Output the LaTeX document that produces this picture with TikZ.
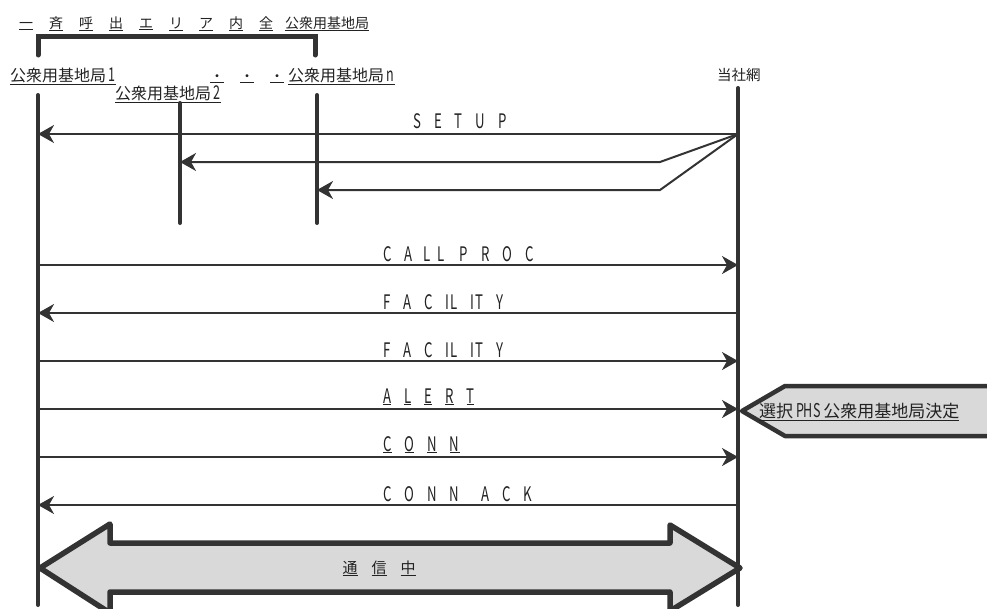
\documentclass[tikz,border=0pt]{standalone}
\usepackage{fontspec}
\setmainfont{Noto Sans CJK JP}
\newfontfamily\latfont[FakeStretch=0.66]{Noto Sans CJK JP}
\usetikzlibrary{arrows.meta}

\definecolor{ink}{HTML}{333333}
\definecolor{txt}{HTML}{222222}
\definecolor{shade}{HTML}{D9D9D9}

\newcommand{\gap}{\hspace{13pt}}
\newcommand{\dig}[1]{{\latfont\fontsize{19}{20}\selectfont #1}}

\tikzset{
  lifeline/.style={ink, line width=4pt, line cap=round},
  msg/.style={ink, line width=2pt, -{Stealth[length=16pt,width=18pt,inset=5pt]}},
  lab/.style={txt, anchor=base west, inner sep=0pt, font=\latfont\fontsize{20}{24}\selectfont},
  jlab/.style={txt, anchor=base west, inner sep=0pt, font=\fontsize{16}{18}\selectfont},
  hdr/.style={txt, anchor=base, inner sep=0pt, font=\fontsize{14}{18}\selectfont},
}

\begin{document}
\begin{tikzpicture}[x=1pt, y=-1pt]
    \clip (0,0) rectangle (987,608);

    % Заголовок
    \foreach \c [count=\i from 0] in {一,斉,呼,出,エ,リ,ア,内,全}
        \node[hdr] (h\i) at (26+30*\i, 28) {\underline{\c}};
    \node[hdr, anchor=base west] (hall) at (285,28) {\underline{公衆用基地局}};
    % Скобка
    \draw[ink, line width=5pt, line cap=round] (38,55) -- (38,36) -- (315,36) -- (315,55);

    % Подписи станций
    \node[jlab] (lb1) at (10,81) {\underline{公衆用基地局\,\dig{1}}};
    \node[jlab] (lb2) at (115,99) {\underline{公衆用基地局\,\dig{2}}};
    \node[hdr] (d1) at (217,81) {\underline{・}};
    \node[hdr] (d2) at (247,81) {\underline{・}};
    \node[hdr] (d3) at (277,81) {\underline{・}};
    \node[jlab] (lbn) at (288,81) {\underline{公衆用基地局\,\dig{n}}};
    \node[jlab, font=\fontsize{14.5}{18}\selectfont] (lnet) at (717,80) {当社網};

    % Линии жизни
    \coordinate (b1) at (38,95);   \coordinate (b1b) at (38,605);
    \coordinate (b2) at (180,103); \coordinate (b2b) at (180,223);
    \coordinate (bn) at (317,95);  \coordinate (bnb) at (317,223);
    \coordinate (net) at (738,88); \coordinate (netb) at (738,605);
    \draw[lifeline] (b1) -- (b1b);
    \draw[lifeline] (b2) -- (b2b);
    \draw[lifeline] (bn) -- (bnb);
    \draw[lifeline] (net) -- (netb);

    % Сообщения
    \coordinate (setup) at (738,134);
    \coordinate (bend2) at (660,162);
    \coordinate (bend3) at (660,190);
    \coordinate (callproc) at (738,265);
    \coordinate (fac1) at (738,313);
    \coordinate (fac2) at (738,361);
    \coordinate (alert) at (738,409);
    \coordinate (conn) at (738,457);
    \coordinate (connack) at (738,505);

    \draw[msg] (setup) -- (b1 |- setup);
    \draw[msg] (setup) -- (bend2) -- (b2 |- bend2);
    \draw[msg] (setup) -- (bend3) -- (bn |- bend3);
    \draw[msg] (b1 |- callproc) -- (callproc);
    \draw[msg] (fac1) -- (b1 |- fac1);
    \draw[msg] (b1 |- fac2) -- (fac2);
    \draw[msg] (b1 |- alert) -- (alert);
    \draw[msg] (b1 |- conn) -- (conn);
    \draw[msg] (connack) -- (b1 |- connack);

    \node[lab] (tsetup) at (413,128) {S\gap E\gap T\gap U\gap P};
    \node[lab] (tcall) at (383,261) {C\gap A\hspace{11pt}L\hspace{7pt}L\hspace{15pt}P\gap R\gap O\gap C};
    \node[lab] (tfac1) at (383,309) {F\gap A\gap C\gap I\hspace{1pt}L\gap I\hspace{1pt}T\gap Y};
    \node[lab] (tfac2) at (383,357) {F\gap A\gap C\gap I\hspace{1pt}L\gap I\hspace{1pt}T\gap Y};
    \node[lab] (talert) at (383,403) {\underline{A}\gap\underline{L}\gap\underline{E}\gap\underline{R}\gap\underline{T}};
    \node[lab] (tconn) at (383,451) {\underline{C}\gap\underline{O}\gap\underline{N}\gap\underline{N}};
    \node[lab] (tack) at (383,501) {C\gap O\gap N\gap N\hspace{22pt}A\gap C\gap K};

    % Выноска
    \draw[ink, fill=shade, line width=4.5pt, line join=round]
        (995,386) -- (785,386) -- (742,411) -- (785,436) -- (995,436);
    \node[txt, anchor=west, inner sep=0pt, font=\fontsize{17}{20}\selectfont] (sel) at (759,412)
        {\underline{選択\,\dig{PHS}\,公衆用基地局決定}};

    % Двойная стрелка
    \draw[ink, fill=shade, line width=5.5pt, line join=round]
        (40,568) -- (110,524) -- (110,543) -- (670,543) -- (670,525) -- (740,568)
        -- (670,611) -- (670,592) -- (110,592) -- (110,613) -- cycle;
    \node[hdr, font=\fontsize{15}{18}\selectfont] (t1) at (350,573) {\underline{通}};
    \node[hdr, font=\fontsize{15}{18}\selectfont] (t2) at (379,573) {\underline{信}};
    \node[hdr, font=\fontsize{15}{18}\selectfont] (t3) at (408,573) {\underline{中}};
\end{tikzpicture}
\end{document}
